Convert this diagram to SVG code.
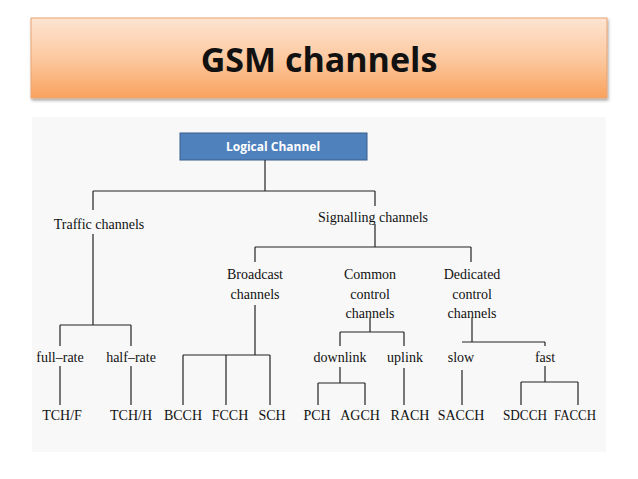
<svg xmlns="http://www.w3.org/2000/svg" width="638" height="479" viewBox="0 0 638 479">
<defs>
<linearGradient id="tg" x1="0" y1="0" x2="0" y2="1">
<stop offset="0" stop-color="#fde4d2"/><stop offset="0.5" stop-color="#fcc9a0"/><stop offset="1" stop-color="#f9a25e"/>
</linearGradient>
<filter id="sh"><feDropShadow dx="1" dy="2" stdDeviation="1.5" flood-opacity="0.35"/></filter>
</defs>
<style>
text{font-family:"Liberation Serif",serif;font-size:14px;fill:#111;text-anchor:middle}
.c line{stroke:#222;stroke-width:1.2}
</style>
<rect width="638" height="479" fill="#fff"/>
<rect x="31" y="18" width="576" height="80" fill="url(#tg)" stroke="#e8a474" filter="url(#sh)"/>
<text x="319" y="72" style="font-family:'Open Sans','Liberation Sans',sans-serif;font-weight:bold;font-size:34px">GSM channels</text>
<rect x="32" y="117" width="574" height="335" fill="#f8f8f8"/>
<g id="logical"><rect x="180" y="133" width="187" height="27" fill="#4f81bd" stroke="#385d8a"/>
<text x="273" y="151" style="font-family:'Open Sans','Liberation Sans',sans-serif;font-weight:bold;font-size:12px;fill:#fff">Logical Channel</text></g>
<g class="c" id="connectors">
<line x1="265" y1="160" x2="265" y2="191"/><line x1="93" y1="191" x2="375" y2="191"/>
<line x1="93" y1="191" x2="93" y2="210"/><line x1="93" y1="234" x2="93" y2="325"/>
<line x1="375" y1="191" x2="375" y2="206"/><line x1="375" y1="224" x2="375" y2="247"/>
<line x1="255" y1="247" x2="471" y2="247"/><line x1="255" y1="247" x2="255" y2="262"/><line x1="471" y1="247" x2="471" y2="262"/>
<line x1="60" y1="325" x2="131" y2="325"/>
<line x1="60" y1="325" x2="60" y2="346"/><line x1="60" y1="366" x2="60" y2="405"/>
<line x1="131" y1="325" x2="131" y2="346"/><line x1="131" y1="366" x2="131" y2="405"/>
<line x1="255" y1="305" x2="255" y2="355"/><line x1="183" y1="355" x2="270" y2="355"/>
<line x1="183" y1="355" x2="183" y2="405"/><line x1="226" y1="355" x2="226" y2="405"/><line x1="270" y1="355" x2="270" y2="405"/>
<line x1="370" y1="318" x2="370" y2="332"/><line x1="340" y1="332" x2="404" y2="332"/>
<line x1="340" y1="332" x2="340" y2="346"/><line x1="404" y1="332" x2="404" y2="346"/>
<line x1="340" y1="367" x2="340" y2="383"/><line x1="318" y1="383" x2="365" y2="383"/>
<line x1="318" y1="383" x2="318" y2="405"/><line x1="365" y1="383" x2="365" y2="405"/>
<line x1="404" y1="368" x2="404" y2="405"/>
<line x1="472" y1="318" x2="472" y2="342"/><line x1="462" y1="342" x2="545" y2="342"/>
<line x1="462" y1="370" x2="462" y2="405"/><line x1="545" y1="342" x2="545" y2="346"/>
<line x1="545" y1="366" x2="545" y2="382"/><line x1="521" y1="382" x2="578" y2="382"/>
<line x1="521" y1="382" x2="521" y2="405"/><line x1="578" y1="382" x2="578" y2="405"/>
</g>
<g id="traffic"><text x="99" y="229">Traffic channels</text></g>
<g id="signalling"><text x="373" y="222">Signalling channels</text></g>
<g id="broadcast"><text x="255" y="279">Broadcast</text><text x="255" y="299">channels</text></g>
<g id="common"><text x="370" y="279">Common</text><text x="370" y="299">control</text><text x="370" y="318">channels</text></g>
<g id="dedicated"><text x="472" y="279">Dedicated</text><text x="472" y="299">control</text><text x="472" y="318">channels</text></g>
<g id="fullrate"><text x="60" y="362">full–rate</text></g>
<g id="halfrate"><text x="131" y="362">half–rate</text></g>
<g id="downlink"><text x="340" y="362">downlink</text></g>
<g id="uplink"><text x="405" y="362">uplink</text></g>
<g id="slow"><text x="461" y="362">slow</text></g>
<g id="fast"><text x="545" y="362">fast</text></g>
<g id="tchf"><text x="62" y="420">TCH/F</text></g>
<g id="tchh"><text x="131" y="420">TCH/H</text></g>
<g id="bcch"><text x="183" y="420">BCCH</text></g>
<g id="fcch"><text x="230" y="420">FCCH</text></g>
<g id="sch"><text x="272" y="420">SCH</text></g>
<g id="pch"><text x="317" y="420">PCH</text></g>
<g id="agch"><text x="360" y="420">AGCH</text></g>
<g id="rach"><text x="410" y="420">RACH</text></g>
<g id="sacch"><text x="461" y="420">SACCH</text></g>
<g id="sdcch"><text x="525" y="420" textLength="44" lengthAdjust="spacingAndGlyphs">SDCCH</text></g>
<g id="facch"><text x="575" y="420" textLength="42" lengthAdjust="spacingAndGlyphs">FACCH</text></g>
</svg>
